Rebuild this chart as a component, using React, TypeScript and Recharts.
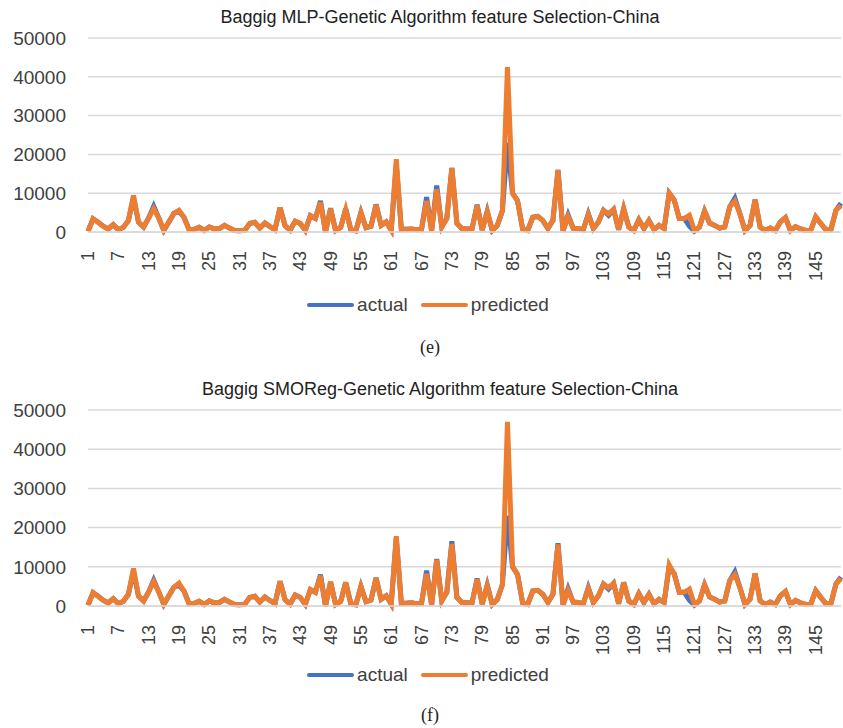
import { LineChart, Line, XAxis, YAxis, CartesianGrid, Legend } from "recharts";

// x categories 1..150
const categories = Array.from({ length: 150 }, (_, i) => String(i + 1));

const actual = [
  200, 3400, 2500, 1500, 800, 1900, 600, 1200, 3000, 8800,
  2500, 1300, 3600, 6600, 3600, 400, 2600, 4800, 5300, 3800,
  600, 700, 1200, 400, 1300, 800, 900, 1700, 1000, 400,
  300, 400, 2200, 2500, 1000, 2300, 1400, 600, 6300, 1600,
  500, 2800, 2200, 400, 4200, 3500, 8000, 0, 6100, 400,
  1200, 6000, 600, 300, 5000, 1100, 1500, 7100, 1700, 2600,
  500, 17300, 700, 700, 800, 600, 700, 9000, 300, 12000,
  1300, 3500, 16500, 2200, 900, 800, 900, 7000, 500, 5400,
  400, 1700, 5500, 23000, 10000, 8000, 800, 400, 3800, 4000,
  3000, 900, 3000, 16000, 300, 4400, 1000, 900, 600, 4700,
  900, 2600, 5600, 4300, 5800, 600, 6000, 1300, 400, 3200,
  900, 3000, 600, 1700, 900, 10000, 8200, 3500, 3500, 1500,
  200, 1300, 5400, 2300, 1700, 1000, 1300, 6500, 8700, 4700,
  400, 1700, 8300, 1300, 400, 1000, 400, 2600, 3700, 400,
  1400, 800, 400, 400, 3900, 2200, 600, 600, 5600, 7400,
];

const predictedMLP = [
  200, 3400, 2500, 1500, 800, 1900, 600, 1200, 3000, 9400,
  2500, 1300, 3600, 6000, 3600, 400, 2600, 4800, 5600, 3800,
  600, 700, 1200, 400, 1300, 800, 900, 1700, 1000, 400,
  300, 400, 2200, 2500, 1000, 2300, 1400, 600, 6300, 1600,
  500, 2800, 2200, 400, 4200, 3500, 7600, 0, 6000, 400,
  1200, 5800, 600, 300, 5000, 1100, 1500, 7000, 1700, 2600,
  500, 18800, 700, 700, 800, 600, 700, 8000, 300, 11000,
  1300, 3500, 16500, 2200, 900, 800, 900, 6800, 500, 5200,
  400, 1700, 5500, 42500, 10000, 8000, 800, 400, 3800, 4000,
  3000, 900, 3000, 16000, 300, 4000, 1000, 900, 600, 4500,
  900, 2600, 5600, 4700, 5800, 600, 6000, 1300, 400, 3200,
  900, 3000, 600, 1700, 900, 10000, 8200, 3500, 3500, 4300,
  400, 1300, 5400, 2300, 1700, 1000, 1300, 6500, 8000, 4700,
  400, 1700, 8300, 1300, 400, 1000, 400, 2600, 3700, 400,
  1400, 800, 400, 400, 3900, 2200, 600, 600, 5600, 6800,
];

const predictedSMOReg = [
  200, 3400, 2500, 1500, 800, 1900, 600, 1200, 3000, 9600,
  2500, 1300, 3600, 6200, 3600, 400, 2600, 4800, 5800, 3800,
  600, 700, 1200, 400, 1300, 800, 900, 1700, 1000, 400,
  300, 400, 2200, 2500, 1000, 2300, 1400, 600, 6300, 1600,
  500, 2800, 2200, 400, 4200, 3500, 7700, 0, 6200, 400,
  1200, 6000, 600, 300, 5000, 1100, 1500, 7200, 1700, 2600,
  500, 17800, 700, 700, 800, 600, 700, 8200, 300, 11800,
  1300, 3500, 15800, 2200, 900, 800, 900, 6800, 500, 5200,
  400, 1700, 5500, 47000, 10200, 8000, 800, 400, 3800, 4000,
  3000, 900, 3000, 15700, 300, 4000, 1000, 900, 600, 4500,
  900, 2600, 5600, 4700, 5800, 600, 6000, 1300, 400, 3200,
  900, 3000, 600, 1700, 900, 10500, 8200, 3500, 3500, 4300,
  400, 1300, 5400, 2300, 1700, 1000, 1300, 6500, 8000, 4700,
  400, 1700, 8300, 1300, 400, 1000, 400, 2600, 3700, 400,
  1400, 800, 400, 400, 3900, 2200, 600, 600, 5600, 7000,
];

const yTicks = [0, 10000, 20000, 30000, 40000, 50000];

const COLORS = { actual: "#4472C4", predicted: "#ED7D31" };
const FONT = "'Liberation Sans', Arial, sans-serif";

const buildRows = (pred: number[]) =>
  categories.map((c, i) => ({ idx: c, actual: actual[i], predicted: pred[i] }));

const XTick = ({ x, y, payload }: any) => (
  <text
    x={x}
    y={y}
    transform={`rotate(-90, ${x}, ${y})`}
    textAnchor="end"
    dominantBaseline="central"
    fontSize={18}
    fontFamily={FONT}
    fill="#404040"
  >
    {payload.value}
  </text>
);

const LegendBox = ({ pad }: { pad: number }) => (
  <div
    style={{
      display: "flex",
      justifyContent: "center",
      paddingTop: pad,
      paddingLeft: 20,
      fontFamily: FONT,
      fontSize: 19,
      color: "#404040",
      lineHeight: "22px",
    }}
  >
    {[
      { name: "actual", color: COLORS.actual },
      { name: "predicted", color: COLORS.predicted },
    ].map((it) => (
      <div key={it.name} style={{ display: "flex", alignItems: "center", marginRight: 13 }}>
        <span
          style={{
            display: "inline-block",
            width: 47,
            height: 4,
            borderRadius: 2,
            background: it.color,
            marginRight: 3,
          }}
        />
        {it.name}
      </div>
    ))}
  </div>
);

type PanelProps = {
  top: number;
  title: string;
  pred: number[];
  height: number;
  legendPad: number;
  caption: string;
  captionTop: number;
};

const Panel = ({ top, title, pred, height, legendPad, caption, captionTop }: PanelProps) => (
  <div style={{ position: "absolute", left: 0, top, width: 843 }}>
    <div
      style={{
        position: "absolute",
        top: 7,
        left: 0,
        width: 843,
        paddingLeft: 37,
        boxSizing: "border-box",
        textAlign: "center",
        fontFamily: FONT,
        fontSize: 18,
        color: "#222",
      }}
    >
      {title}
    </div>
    <LineChart
      width={843}
      height={height}
      data={buildRows(pred)}
      margin={{ top: 38, right: 2, left: 8, bottom: 0 }}
    >
      <CartesianGrid vertical={false} stroke="#d9d9d9" strokeWidth={1.5} />
      <XAxis
        dataKey="idx"
        interval={5}
        tickLine={false}
        axisLine={{ stroke: "#d9d9d9", strokeWidth: 1.5 }}
        tick={<XTick />}
        tickMargin={13}
        height={50}
      />
      <YAxis
        domain={[0, 50000]}
        ticks={yTicks}
        width={80}
        tickLine={false}
        axisLine={false}
        tickMargin={16}
        tick={{ fontSize: 19, fontFamily: FONT, fill: "#404040" }}
      />
      <Legend
        verticalAlign="bottom"
        height={38}
        content={() => <LegendBox pad={legendPad} />}
      />
      <Line
        type="linear"
        dataKey="actual"
        stroke={COLORS.actual}
        strokeWidth={5}
        dot={false}
        isAnimationActive={false}
      />
      <Line
        type="linear"
        dataKey="predicted"
        stroke={COLORS.predicted}
        strokeWidth={5}
        dot={false}
        isAnimationActive={false}
      />
    </LineChart>
    <div
      style={{
        position: "absolute",
        top: captionTop,
        left: 0,
        width: 843,
        paddingLeft: 17,
        boxSizing: "border-box",
        textAlign: "center",
        fontFamily: "'Liberation Serif', 'DejaVu Serif', serif",
        fontSize: 18,
        color: "#222",
      }}
    >
      {caption}
    </div>
  </div>
);

export default function App() {
  return (
    <div style={{ position: "absolute", left: 0, top: 0, width: 843, height: 728, background: "#fff" }}>
      <Panel
        top={0}
        title="Baggig MLP-Genetic Algorithm feature Selection-China"
        pred={predictedMLP}
        height={320}
        legendPad={12}
        caption="(e)"
        captionTop={337}
      />
      <Panel
        top={372}
        title="Baggig SMOReg-Genetic Algorithm feature Selection-China"
        pred={predictedSMOReg}
        height={322}
        legendPad={8}
        caption="(f)"
        captionTop={333}
      />
    </div>
  );
}
